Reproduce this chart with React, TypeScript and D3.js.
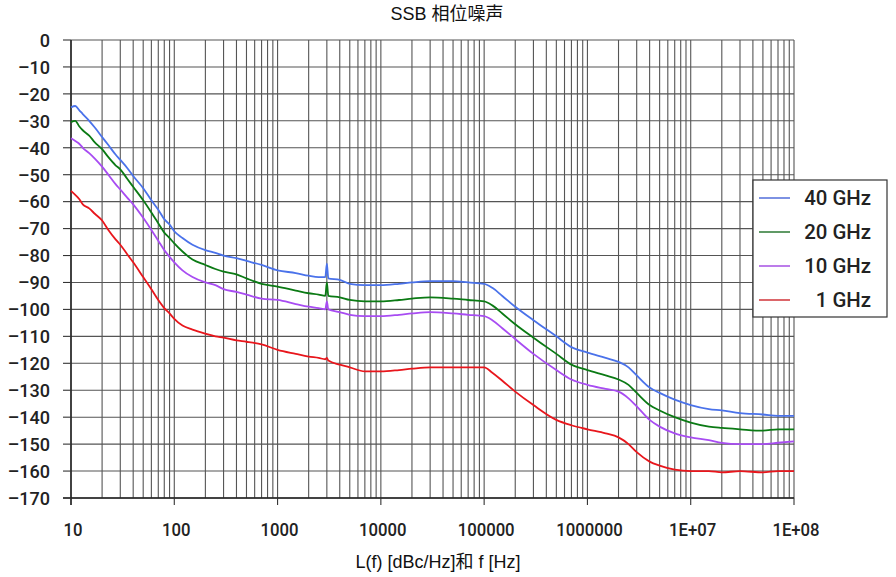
import React from "react";
import * as d3 from "d3";

const freqs = [
  10, 11, 12, 13, 15, 17, 20, 23, 27, 30, 35, 40, 50, 60, 70, 80, 90, 100, 120, 150, 200, 250, 300, 400, 500, 700,
  1000, 1500, 2000, 2500, 2900, 3000, 3100, 4000, 5000, 7000, 10000, 15000, 20000, 30000, 50000, 70000, 100000,
  120000, 150000, 200000, 300000, 500000, 700000, 1e6, 1.5e6, 2e6, 2.5e6, 3e6, 4e6, 5e6, 7e6, 1e7, 1.5e7, 2e7, 3e7,
  5e7, 7e7, 1e8,
];

const ghz40 = [
  -25, -24.5, -26, -27.5, -30, -32.5, -36, -39, -42.5, -44.5, -47.5, -50.5, -55, -59.5, -63, -66.5, -68.5, -71,
  -73.5, -76, -78, -79, -80, -81, -82, -83.5, -85.5, -86.5, -87.5, -88, -88, -83, -88.5, -89, -90.5, -91, -91,
  -90.5, -90, -89.5, -89.5, -90, -90.5, -92, -95, -99, -104, -110, -114, -116, -118, -119.5, -121.5, -124.5, -129,
  -131, -133.5, -135.5, -137, -137.5, -138.5, -139, -139.5, -139.5,
];

const ghz20 = [
  -30.5, -30, -32, -33.5, -35.5, -38, -40.5, -43.5, -46.5, -48, -51.5, -54.5, -59.5, -64, -68, -71.5, -73.5, -75.5,
  -78.5, -81.5, -83.5, -85, -86, -87, -88.5, -90.5, -91.5, -93, -94, -94.5, -95, -90, -95, -95.5, -96.5, -97, -97,
  -96.5, -96, -95.5, -96, -96.5, -97, -98.5, -101.5, -105.5, -110.5, -116.5, -120.5, -122.5, -124.5, -126, -128,
  -131, -135.5, -137.5, -140, -142, -143.5, -144, -144.5, -145, -144.5, -144.5,
];

const ghz10 = [
  -36.5, -37.5, -38.5, -40, -42, -44, -47, -50, -53.5, -55.5, -58.5, -61, -66, -70.5, -74.5, -78, -80.5, -82.5,
  -85.5, -88, -90, -91, -92.5, -93.5, -94.5, -96, -96.5, -98, -99, -99.5, -100, -97, -100, -101, -102, -102.5,
  -102.5, -102, -101.5, -101, -101.5, -102, -102.5, -104, -107, -111, -116.5, -122.5, -126, -128, -129.5, -130.5,
  -133, -136, -141, -143.5, -146, -147.5, -148.5, -149.5, -150, -150, -149.5, -149,
];

const ghz1 = [
  -56, -57.5, -59, -61, -62.5, -64.5, -67, -70.5, -74, -76, -79.5, -82.5, -88, -92.5, -96.5, -99.5, -101.5, -103.5,
  -106, -107.5, -109, -110, -110.5, -111.5, -112, -113, -115, -116.5, -117.5, -118, -118.5, -118, -119, -120.5,
  -121.5, -123, -123, -122.5, -122, -121.5, -121.5, -121.5, -121.5, -123.5, -126.5, -130.5, -135.5, -141, -143,
  -144.5, -146, -147.5, -150, -153, -156.5, -158, -159.5, -160, -160, -160.5, -160, -160.5, -160, -160,
];

const seriesNames = ["40 GHz", "20 GHz", "10 GHz", "1 GHz"];
const seriesColors = ["#4a72ea", "#0b7a14", "#a84cf2", "#e8161c"];
const legendColors = ["#6f86e0", "#4f8f55", "#b56ee8", "#d9555a"];
const seriesValues = [ghz40, ghz20, ghz10, ghz1];

const yTicks = [0, -10, -20, -30, -40, -50, -60, -70, -80, -90, -100, -110, -120, -130, -140, -150, -160, -170];
const xMajor = [10, 100, 1000, 10000, 100000, 1000000, 1e7, 1e8];
const xMajorLabels = ["10", "100", "1000", "10000", "100000", "1000000", "1E+07", "1E+08"];

const title = "SSB 相位噪声";
const xTitle = "L(f) [dBc/Hz]和 f [Hz]";

const W = 896;
const H = 577;
const L = 71;
const R = 794;
const T = 40;
const B = 498;

const narrow = "Roboto, 'Liberation Sans', sans-serif";
const cjk = "'Liberation Sans', Arial, 'Noto Sans CJK SC', sans-serif";

export default function App() {
  const x = d3.scaleLog().domain([10, 1e8]).range([L, R]);
  const y = d3.scaleLinear().domain([-170, 0]).range([B, T]);
  const gridX = x.ticks();
  const line = d3
    .line<number>()
    .x((_, i) => x(freqs[i]))
    .y((v) => y(v))
    .curve(d3.curveMonotoneX);

  const fmt = (v: number) => (v < 0 ? "–" + Math.abs(v) : String(v));

  return (
    <svg width={W} height={H} style={{ position: "absolute", left: 0, top: 0, background: "#fff" }}>
      <rect x={0} y={0} width={W} height={H} fill="#fff" />
      {gridX.map((f, i) => (
        <line key={"gx" + i} x1={x(f)} x2={x(f)} y1={T} y2={B} stroke="#555" strokeWidth={1.1} />
      ))}
      {yTicks.map((v, i) => (
        <line key={"gy" + i} x1={L} x2={R} y1={y(v)} y2={y(v)} stroke="#555" strokeWidth={1.1} />
      ))}
      <line x1={L} x2={L} y1={T} y2={B + 7} stroke="#222" strokeWidth={1.5} />
      <line x1={L - 8} x2={R} y1={B} y2={B} stroke="#222" strokeWidth={1.5} />
      {yTicks.map((v, i) => (
        <g key={"yt" + i}>
          <line x1={L - 8} x2={L} y1={y(v)} y2={y(v)} stroke="#333" strokeWidth={1.1} />
          <text
            transform={`translate(50,${y(v)}) scale(0.95,1)`}
            dy="0.36em"
            textAnchor="end"
            fontFamily={narrow}
            fontWeight={500}
            fontSize={19}
            fill="#222"
          >
            {fmt(v)}
          </text>
        </g>
      ))}
      {xMajor.map((f, i) => (
        <g key={"xt" + i}>
          <line x1={x(f)} x2={x(f)} y1={B} y2={B + 7} stroke="#333" strokeWidth={1.1} />
          <text
            transform={`translate(${x(f) + 2},536) scale(0.88,1)`}
            textAnchor="middle"
            fontFamily={narrow}
            fontWeight={500}
            fontSize={19}
            fill="#222"
          >
            {xMajorLabels[i]}
          </text>
        </g>
      ))}
      {seriesValues.map((vals, i) => (
        <path
          key={"s" + i}
          d={line(vals) || ""}
          fill="none"
          stroke={seriesColors[i]}
          strokeWidth={1.8}
          strokeLinejoin="round"
        />
      ))}
      <rect x={753} y={180} width={134} height={137} fill="#fff" stroke="#333" strokeWidth={1.2} />
      {seriesNames.map((n, i) => (
        <g key={"lg" + i}>
          <line
            x1={759}
            x2={790}
            y1={198 + i * 34}
            y2={198 + i * 34}
            stroke={legendColors[i]}
            strokeWidth={1.8}
          />
          <text
            transform={`translate(871,${198 + i * 34}) scale(1.02,1)`}
            dy="0.36em"
            textAnchor="end"
            fontFamily={narrow}
            fontWeight={500}
            fontSize={20}
            fill="#222"
          >
            {n}
          </text>
        </g>
      ))}
      <text x={447} y={20} textAnchor="middle" fontFamily={cjk} fontSize={18} fill="#111">
        {title}
      </text>
      <text x={438} y={568} textAnchor="middle" fontFamily={cjk} fontSize={18} fill="#111">
        {xTitle}
      </text>
    </svg>
  );
}
